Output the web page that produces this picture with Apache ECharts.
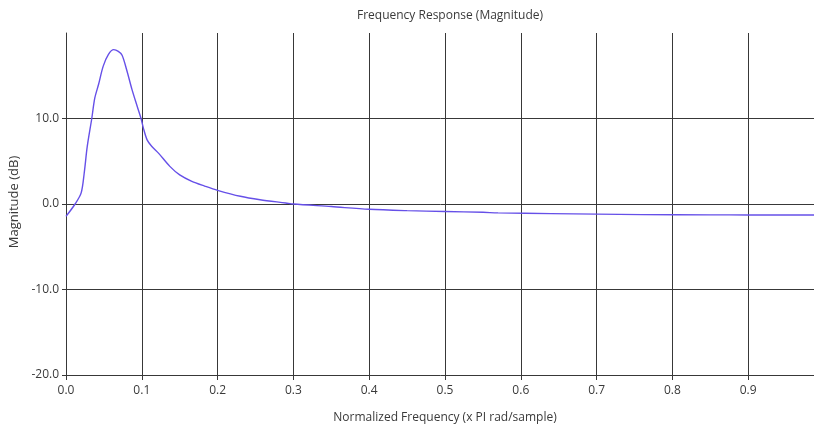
<!DOCTYPE html>
<html>
<head>
<meta charset="utf-8">
<script src="https://cdn.jsdelivr.net/npm/echarts@6/dist/echarts.min.js"></script>
<style>html,body{margin:0;padding:0;background:#fff}#c{width:814px;height:426px}</style>
</head>
<body>
<div id="c"></div>
<script>
var chartTitle = 'Frequency Response (Magnitude)';
var xName = 'Normalized Frequency (x PI rad/sample)';
var yName = 'Magnitude (dB)';
var freq = [0, 0.012, 0.02, 0.024, 0.028, 0.034, 0.038, 0.043, 0.049, 0.056, 0.063, 0.069, 0.074, 0.08, 0.087, 0.094, 0.099, 0.102, 0.107, 0.113, 0.122, 0.137, 0.15, 0.166, 0.183, 0.2, 0.23, 0.256, 0.29, 0.3, 0.35, 0.4, 0.45, 0.5, 0.55, 0.57, 0.64, 0.7, 0.76, 0.85, 0.9, 1.0];
var mag = [-1.45, 0, 1.3, 3.6, 6.7, 10.0, 12.4, 14.0, 16.1, 17.5, 18.05, 17.85, 17.4, 15.7, 13.4, 11.4, 10.0, 8.9, 7.5, 6.75, 5.95, 4.4, 3.4, 2.65, 2.1, 1.6, 0.9, 0.5, 0.12, 0, -0.3, -0.62, -0.78, -0.88, -0.97, -1.04, -1.12, -1.18, -1.24, -1.27, -1.28, -1.29];

var font = 'Open Sans';
var txt = '#3a3a3a';
var gridCol = '#383838';
var data = freq.map(function (f, i) { return [f, mag[i]]; });

var chart = echarts.init(document.getElementById('c'), null, {renderer: 'canvas'});
chart.setOption({
  animation: false,
  backgroundColor: '#fff',
  title: {
    text: chartTitle, left: 445, top: 5, textAlign: 'center',
    textStyle: {fontFamily: font, fontSize: 12, fontWeight: 'normal', color: txt}
  },
  grid: {left: 66, right: -10, top: 33, bottom: 51, containLabel: false, outerBoundsMode: 'none'},
  xAxis: {
    type: 'value', min: 0, max: 1, interval: 0.1,
    name: xName, nameLocation: 'middle', nameGap: 37,
    nameTextStyle: {fontFamily: font, fontSize: 12, color: txt},
    axisLine: {show: true, onZero: false, lineStyle: {color: gridCol, width: 1}},
    axisTick: {show: true, length: 5, lineStyle: {color: gridCol}},
    axisLabel: {fontFamily: font, fontSize: 12, color: txt, margin: 10, showMaxLabel: false,
      formatter: function (v) { return v.toFixed(1); }},
    splitLine: {show: true, showMinLine: false, showMaxLine: false, lineStyle: {color: gridCol, width: 1}}
  },
  yAxis: {
    type: 'value', min: -20, max: 20, interval: 10,
    name: yName, nameLocation: 'middle', nameGap: 42,
    nameTextStyle: {fontFamily: font, fontSize: 13, color: txt, padding: [0, 0, 0, 4]},
    axisLine: {show: true, onZero: false, lineStyle: {color: gridCol, width: 1}},
    axisTick: {show: true, length: 4, lineStyle: {color: gridCol}},
    axisLabel: {fontFamily: font, fontSize: 12, color: txt, margin: 7, showMaxLabel: false,
      padding: [3, 0, 0, 0],
      formatter: function (v) { return v.toFixed(1); }},
    splitLine: {show: true, showMinLine: false, showMaxLine: false, lineStyle: {color: gridCol, width: 1}}
  },
  series: [{
    type: 'line', data: data, smooth: 0.3, showSymbol: false, symbol: 'none',
    lineStyle: {color: '#6650e8', width: 1.4}
  }]
});
</script>
</body>
</html>
